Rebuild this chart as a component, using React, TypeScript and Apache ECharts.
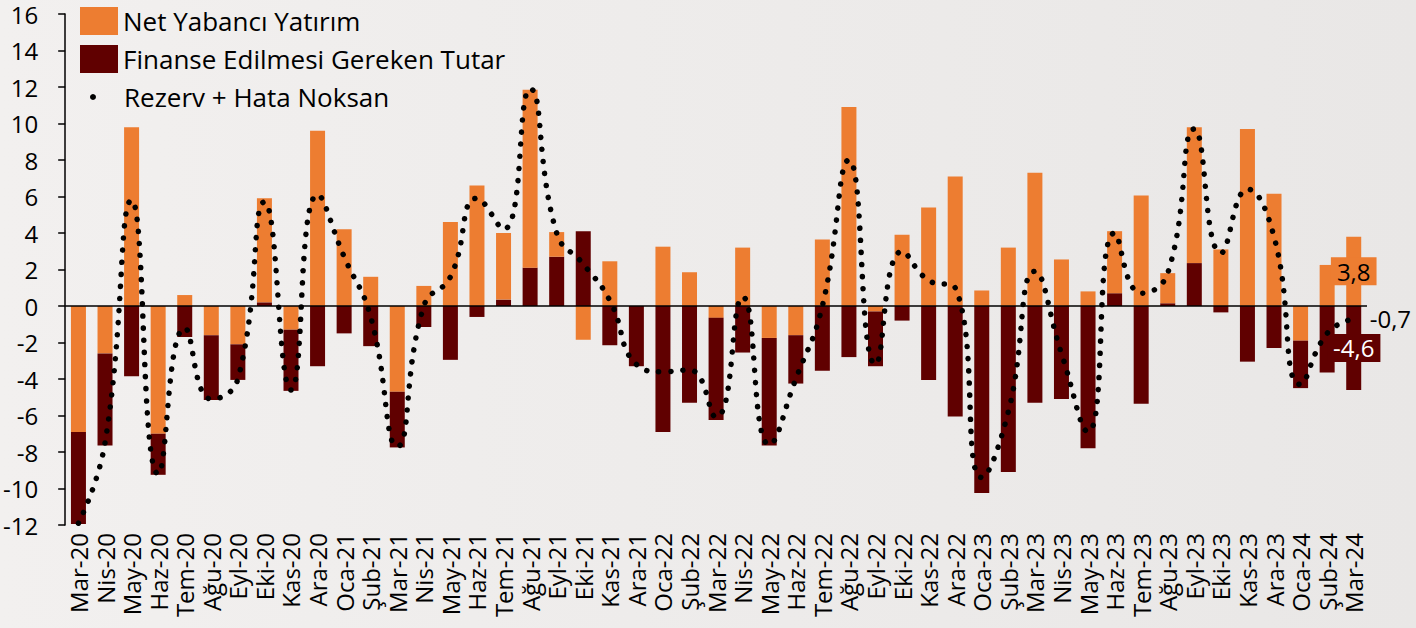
import React, { useEffect, useRef } from "react";
import * as echarts from "echarts";

const categories = [
  "Mar-20", "Nis-20", "May-20", "Haz-20", "Tem-20", "Ağu-20", "Eyl-20", "Eki-20", "Kas-20", "Ara-20",
  "Oca-21", "Şub-21", "Mar-21", "Nis-21", "May-21", "Haz-21", "Tem-21", "Ağu-21", "Eyl-21", "Eki-21", "Kas-21", "Ara-21",
  "Oca-22", "Şub-22", "Mar-22", "Nis-22", "May-22", "Haz-22", "Tem-22", "Ağu-22", "Eyl-22", "Eki-22", "Kas-22", "Ara-22",
  "Oca-23", "Şub-23", "Mar-23", "Nis-23", "May-23", "Haz-23", "Tem-23", "Ağu-23", "Eyl-23", "Eki-23", "Kas-23", "Ara-23",
  "Oca-24", "Şub-24", "Mar-24",
];

const netYabanci = [
  -6.9, -2.6, 9.8, -7.0, 0.6, -1.6, -2.1, 5.7, -1.3, 9.6,
  4.2, 1.6, -4.7, 1.1, 4.6, 6.6, 3.65, 9.75, 1.35, -1.85, 2.45, 0,
  3.25, 1.85, -0.65, 3.2, -1.75, -1.6, 3.65, 10.9, -0.3, 3.9, 5.4, 7.1,
  0.85, 3.2, 7.3, 2.55, 0.8, 3.4, 6.05, 1.65, 7.45, 3.1, 9.7, 6.15,
  -1.9, 2.25, 3.8,
];

const finanse = [
  -5.05, -5.05, -3.85, -2.25, -1.7, -3.55, -1.95, 0.2, -3.35, -3.3,
  -1.5, -2.2, -3.05, -1.15, -2.95, -0.6, 0.35, 2.1, 2.7, 4.1, -2.15, -3.3,
  -6.9, -5.3, -5.6, -2.55, -5.9, -2.65, -3.55, -2.8, -3.0, -0.8, -4.05, -6.05,
  -10.25, -9.1, -5.3, -5.1, -7.8, 0.7, -5.35, 0.15, 2.35, -0.35, -3.05, -2.3,
  -2.6, -3.65, -4.6,
];

const rezerv = [
  -11.9, -7.5, 5.8, -9.2, -1.2, -5.1, -4.0, 5.7, -4.6, 6.1,
  2.7, -0.6, -7.7, 0.0, 1.6, 5.9, 4.2, 11.9, 4.0, 2.3, 0.3, -3.2,
  -3.6, -3.5, -6.1, 0.5, -7.6, -4.0, 0.0, 8.0, -3.2, 3.0, 1.4, 1.0,
  -9.4, -5.8, 1.9, -2.6, -6.9, 4.0, 0.7, 1.8, 9.7, 2.9, 6.4, 3.8,
  -4.3, -1.5, -0.7,
];

const yTicks = { min: -12, max: 16, interval: 2 };

const ORANGE = "#ED7D31";
const DARK = "#600000";
const FONT = "Open Sans";

const fmt = (v: number) => String(v).replace(".", ",");

export default function App() {
  const ref = useRef<HTMLDivElement>(null);

  useEffect(() => {
    if (!ref.current) return;
    const chart = echarts.init(ref.current, undefined, { renderer: "svg" });
    const last = categories.length - 1;

    const labelBox = (bg: string, color: string) => ({
      show: true,
      position: "inside",
      formatter: (p: any) => fmt(p.value),
      backgroundColor: bg,
      color,
      fontSize: 24,
      fontFamily: FONT,
      padding: [3, 6, 1, 6],
    });

    const finPos = finanse.map((v) => (v > 0 ? v : "-"));
    const finNeg = finanse.map((v, i) =>
      v < 0 ? (i === last ? { value: v, label: labelBox(DARK, "#fff") } : v) : "-"
    );
    const netData = netYabanci.map((v, i) =>
      i === last ? { value: v, label: labelBox(ORANGE, "#000") } : v
    );

    chart.setOption({
      animation: false,
      backgroundColor: {
        type: "linear",
        x: 0,
        y: 0,
        x2: 1,
        y2: 0,
        colorStops: [
          { offset: 0, color: "#F2F0EF" },
          { offset: 1, color: "#E9E7E6" },
        ],
      },
      textStyle: { fontFamily: FONT },
      grid: { left: 65, right: 49, top: 14, bottom: 103, containLabel: false },
      legend: [
        {
          orient: "vertical",
          left: 75,
          top: 2,
          itemWidth: 38,
          itemHeight: 28,
          itemGap: 10,
          icon: "rect",
          selectedMode: false,
          data: ["Net Yabancı Yatırım", "Finanse Edilmesi Gereken Tutar"],
          textStyle: { fontSize: 26, color: "#000", fontFamily: FONT },
        },
        {
          orient: "vertical",
          left: 85,
          top: 79,
          itemWidth: 6,
          itemHeight: 6,
          icon: "circle",
          selectedMode: false,
          data: ["Rezerv + Hata Noksan"],
          itemStyle: { color: "#000", borderWidth: 0 },
          textStyle: { fontSize: 26, color: "#000", fontFamily: FONT, padding: [0, 0, 0, 23] },
        },
      ],
      xAxis: {
        type: "category",
        data: categories,
        axisLine: { show: false, onZero: false },
        axisTick: { show: false },
        axisLabel: {
          rotate: 90,
          interval: 0,
          margin: 8,
          fontSize: 24,
          color: "#000",
          fontFamily: FONT,
        },
        splitLine: { show: false },
      },
      yAxis: {
        type: "value",
        min: yTicks.min,
        max: yTicks.max,
        interval: yTicks.interval,
        axisLine: { show: true, onZero: false, lineStyle: { color: "#000", width: 1.5 } },
        axisTick: { show: true, inside: false, length: 7, lineStyle: { color: "#000", width: 1.5 } },
        axisLabel: { fontSize: 24, lineHeight: 20, color: "#000", margin: 27, fontFamily: FONT },
        splitLine: { show: false },
      },
      series: [
        {
          name: "Finanse Edilmesi Gereken Tutar",
          type: "bar",
          stack: "a",
          barWidth: 15,
          data: finPos,
          itemStyle: { color: DARK },
        },
        {
          name: "Net Yabancı Yatırım",
          type: "bar",
          stack: "a",
          barWidth: 15,
          data: netData,
          itemStyle: { color: ORANGE },
          markLine: {
            silent: true,
            symbol: ["none", "none"],
            label: { show: false },
            lineStyle: { color: "#000", width: 1.5, type: "solid" },
            data: [{ yAxis: 0 }],
          },
        },
        {
          name: "Finanse Edilmesi Gereken Tutar",
          type: "bar",
          stack: "a",
          barWidth: 15,
          data: finNeg,
          itemStyle: { color: DARK },
        },
        {
          name: "Rezerv + Hata Noksan",
          type: "line",
          data: rezerv,
          smooth: 0.5,
          showSymbol: false,
          symbol: "circle",
          itemStyle: { color: "#000" },
          lineStyle: { color: "#000", width: 5.5, type: [0.1, 12], cap: "round" },
          endLabel: {
            show: true,
            formatter: (p: any) => fmt(p.value),
            fontSize: 24,
            color: "#000",
            fontFamily: FONT,
            distance: 16,
          },
          z: 5,
        },
      ],
    });

    return () => chart.dispose();
  }, []);

  return (
    <div
      ref={ref}
      style={{ position: "fixed", left: 0, top: 0, width: 1416, height: 628 }}
    />
  );
}
